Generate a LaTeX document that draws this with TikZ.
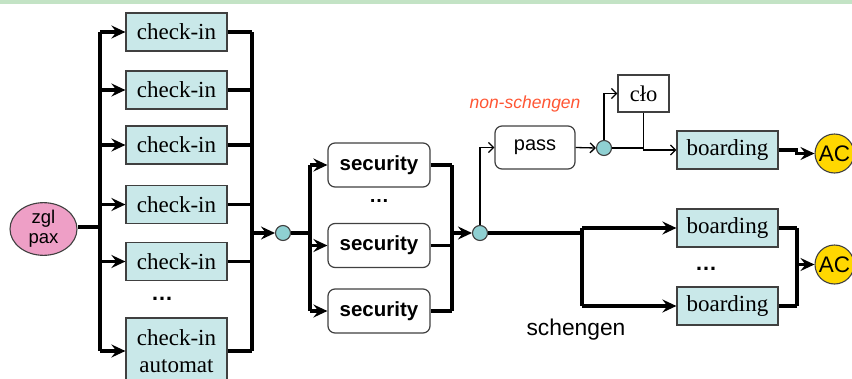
\documentclass[tikz,border=0pt]{standalone}
\usepackage{fontspec}
\setmainfont{Liberation Serif}
\setsansfont{Liberation Sans}
\usetikzlibrary{arrows.meta,calc,shapes.geometric}
\definecolor{boxfill}{HTML}{C9E8E9}
\definecolor{hubfill}{HTML}{8FD0D2}
\definecolor{paxfill}{HTML}{EE9FC6}
\definecolor{acfill}{HTML}{FFD700}
\definecolor{edge}{HTML}{404040}
\definecolor{topbar}{HTML}{C3E3C5}
\definecolor{nsred}{HTML}{FF5533}
\tikzset{
  serifbox/.style={draw=edge, line width=1.2pt, fill=boxfill, inner sep=0pt,
    minimum width=101pt, minimum height=38pt,
    font=\fontsize{23}{25}\selectfont},
  plainbox/.style={draw=edge, line width=1.2pt, fill=white, inner sep=0pt,
    minimum width=51pt, minimum height=37pt,
    font=\fontsize{22.5}{25}\selectfont},
  secbox/.style={draw=edge, line width=1.2pt, fill=white, rounded corners=7pt,
    inner sep=0pt, minimum width=102pt, minimum height=44pt,
    font=\sffamily\bfseries\fontsize{20.5}{23}\selectfont},
  passbox/.style={draw=edge, line width=1.2pt, fill=white, rounded corners=7pt,
    inner sep=0pt, minimum width=80pt, minimum height=43pt,
    font=\sffamily\fontsize{20}{22}\selectfont},
  hub/.style={circle, draw=edge, line width=1.1pt, fill=hubfill,
    minimum size=15pt, inner sep=0pt},
  acnode/.style={circle, draw=edge, line width=1.1pt, fill=acfill,
    minimum size=39pt, inner sep=0pt, font=\sffamily\fontsize{22.5}{24}\selectfont},
  dots/.style={font=\sffamily\bfseries\fontsize{22}{24}\selectfont, inner sep=0pt},
  thk/.style={line width=3.2pt, line join=miter},
  thkarr/.style={thk, -{Stealth[length=14pt, width=13pt, inset=5pt]}},
  thn/.style={line width=1.3pt},
  thnarr/.style={thn, -{Straight Barb[length=5pt, width=10pt]}},
}
\begin{document}
\begin{tikzpicture}[x=1pt, y=-1pt]
\useasboundingbox (0,0) rectangle (852,378);
% header strip
\fill[topbar] (0,0) rectangle (852,3.5);

% passenger source
\node[ellipse, draw=edge, line width=1.1pt, fill=paxfill, minimum width=67pt,
  minimum height=48pt, inner sep=0pt, align=center,
  font=\sffamily\fontsize{18.5}{20}\selectfont] (pax) at (43.5,229) {zgl\\pax};

% check-in desks
\node[serifbox] (ck1) at (176.5,32) {check-in};
\node[serifbox] (ck2) at (176.5,90) {check-in};
\node[serifbox] (ck3) at (176.5,145) {check-in};
\node[serifbox] (ck4) at (176.5,204.5) {check-in};
\node[serifbox] (ck5) at (176.5,261.5) {check-in};
\node[dots] (ckdots) at (162,299) {…};
\node[serifbox, minimum height=66pt, align=center,
  font=\fontsize{23}{27}\selectfont] (ckA) at (176.5,351) {check-in\\automat};

% security lanes
\node[secbox] (sec1) at (379,165) {security};
\node[dots, font=\sffamily\bfseries\fontsize{20}{22}\selectfont] (secdots) at (379,201) {…};
\node[secbox] (sec2) at (379,245.5) {security};
\node[secbox] (sec3) at (379,311) {security};

% junctions
\node[hub] (hub1) at (283,233) {};
\node[hub] (hub2) at (480,233) {};
\node[hub] (hub3) at (604,148) {};

% non-schengen branch
\node[passbox] (pass) at (535,147.5) {pass};
\node[plainbox] (clo) at (643.5,93.5) {cło};
\node[serifbox] (brd1) at (727.5,150) {boarding};
\node[acnode] (ac1) at (834.5,153.5) {AC};
\node[font=\sffamily\itshape\fontsize{17.5}{20}\selectfont, text=nsred, inner sep=0pt]
  (nslabel) at (525,104) {non-schengen};

% schengen branch
\node[serifbox] (brd2) at (727.5,228) {boarding};
\node[dots] (brddots) at (706,269) {…};
\node[serifbox] (brd3) at (727.5,306) {boarding};
\node[acnode] (ac2) at (834.5,264.5) {AC};
\node[font=\sffamily\fontsize{22.8}{25}\selectfont, inner sep=0pt]
  (slabel) at (576,330) {schengen};

% bus coordinates
\coordinate (lbT) at (100,32);
\coordinate (lbB) at (100,351);
\coordinate (rbT) at (252,32);
\coordinate (rbB) at (252,351);
\coordinate (sbT) at (310,165);
\coordinate (sbB) at (310,311);
\coordinate (tbT) at (452,165);
\coordinate (tbB) at (452,311);
\coordinate (gbT) at (582,228);
\coordinate (gbB) at (582,306);
\coordinate (abT) at (797,228);
\coordinate (abB) at (797,306);

% passenger to check-in
\draw[thk] (pax.east |- 0,227) -- (lbT |- 0,227);
\draw[thk] (lbT) -- (lbB);
\foreach \n in {ck1,ck2,ck3,ck4,ck5,ckA}
  \draw[thkarr] (lbT |- \n.west) -- (\n.west);
\draw[thk] (rbT) -- (rbB);
\foreach \n in {ck1,ck2,ck3,ck4,ck5,ckA}
  \draw[thk] (\n.east) -- (rbT |- \n.east);
\draw[thkarr] (rbT |- hub1) -- (hub1.west);

% check-in to security
\draw[thk] (hub1.east) -- (sbT |- hub1);
\draw[thk] (sbT) -- (sbB);
\foreach \n in {sec1,sec2,sec3}
  \draw[thkarr] (sbT |- \n.west) -- (\n.west);
\draw[thk] (tbT) -- (tbB);
\foreach \n in {sec1,sec2,sec3}
  \draw[thk] (\n.east) -- (tbT |- \n.east);
\draw[thkarr] (tbT |- hub2) -- (hub2.west);

% non-schengen path
\draw[thnarr] (hub2.north) |- (pass.west);
\draw[thnarr] (pass.east) -- (hub3.west);
\draw[thnarr] (hub3.north) |- (clo.west);
\draw[thn] (hub3.east) -- (clo.south |- hub3);
\draw[thnarr] (clo.south) |- (brd1.west);
\draw[thkarr] (brd1.east) -- ++(18,0) |- (ac1.west);

% schengen path
\draw[thk] (hub2.east) -- (gbT |- hub2);
\draw[thk] (gbT) -- (gbB);
\draw[thkarr] (gbT) -- (brd2.west);
\draw[thkarr] (gbB) -- (brd3.west);
\draw[thk] (brd2.east) -- (abT);
\draw[thk] (brd3.east) -- (abB);
\draw[thk] (abT) -- (abB);
\draw[thkarr] (abT |- ac2) -- (ac2.west);
\end{tikzpicture}
\end{document}
